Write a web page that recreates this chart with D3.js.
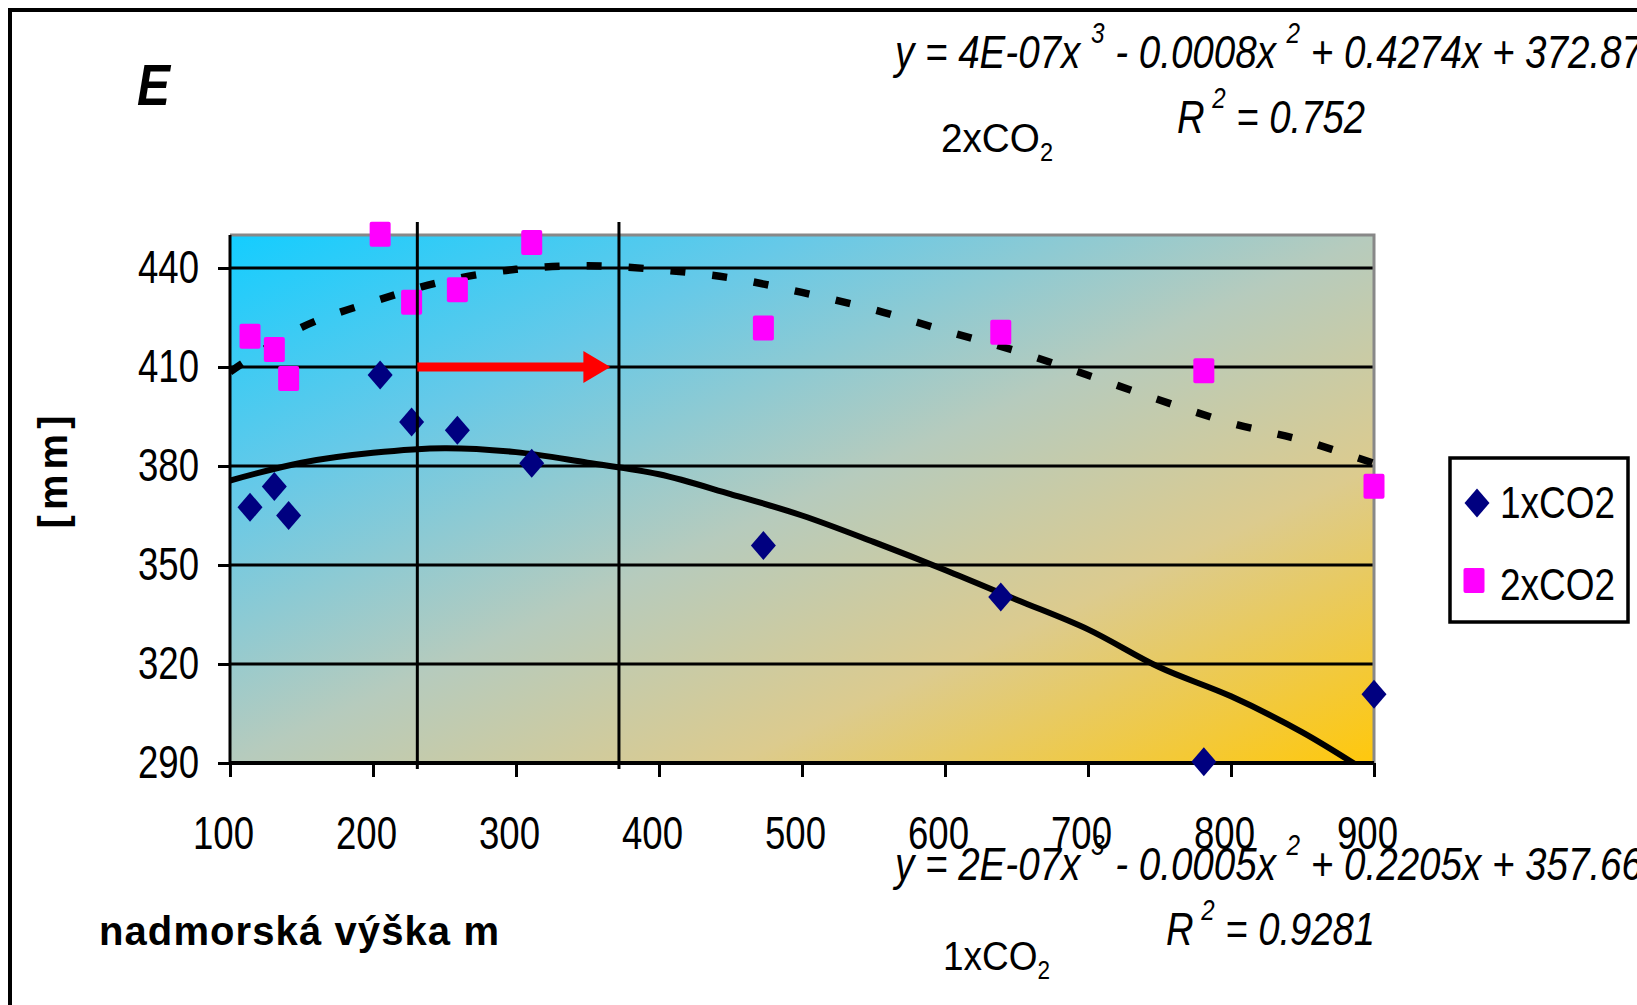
<!DOCTYPE html>
<html>
<head>
<meta charset="utf-8">
<script src="https://cdn.jsdelivr.net/npm/d3@7"></script>
<style>
  body { margin: 0; background: #fff; }
  svg { display: block; }
  text { font-family: "Liberation Sans", Arial, sans-serif; fill: #000; }
</style>
</head>
<body>
<svg id="chart" width="1637" height="1005"></svg>
<script>
// station elevation (m) - same stations for both runs
let elevation = [114, 131, 141, 205, 227, 259, 311, 473, 639, 781, 900];
let seriesNames = ["1xCO2", "2xCO2"];
let precip1x = [367.5, 373.8, 365.0, 407.6, 393.3, 390.8, 380.8, 355.9, 340.3, 290.4, 310.8];
let precip2x = [419.3, 415.3, 406.5, 450.2, 429.6, 433.4, 447.7, 421.8, 420.5, 408.9, 373.9];

// polynomial trend lines as they appear in the figure, read every 50 m
let trendX = [100, 150, 200, 250, 300, 350, 400, 450, 500, 550, 600, 650, 700, 750, 800, 850, 900];
let trend1x = [375.6, 381, 384, 385.4, 384.2, 381, 377.5, 371.5, 365, 357, 348.5, 339.5, 330.5, 319, 310.2, 299.3, 286];
let trend2x = [408.5, 422, 429.8, 436, 439.6, 440.7, 439.5, 437, 432.6, 427.4, 421, 414.8, 407.5, 400, 393, 387.8, 380.8];

let xTicks = [100, 200, 300, 400, 500, 600, 700, 800, 900];
let yTicks = [290, 320, 350, 380, 410, 440];

// elevation band markers and the red shift arrow
let bandLines = [231, 372];
let arrowX = [231, 366];
let arrowLevel = 410;

let svg = d3.select("#chart");

let pLeft = 230, pRight = 1374, pTop = 235, pBottom = 763;

let x = d3.scaleLinear().domain([100, 900]).range([pLeft, pRight]);
let y = d3.scaleLinear().domain([290, 450]).range([pBottom, pTop]);

// outer frame (cut off at the right and bottom like the original)
svg.append("rect")
  .attr("x", 10).attr("y", 10)
  .attr("width", 1700).attr("height", 1100)
  .attr("fill", "none").attr("stroke", "#000").attr("stroke-width", 4);

// plot background
let defs = svg.append("defs");
let grad = defs.append("linearGradient").attr("id", "bg")
  .attr("x1", 0).attr("y1", 0).attr("x2", 1).attr("y2", 1);
grad.append("stop").attr("offset", "0%").attr("stop-color", "#14cdff");
grad.append("stop").attr("offset", "25%").attr("stop-color", "#66c9e8");
grad.append("stop").attr("offset", "50%").attr("stop-color", "#b6cbbd");
grad.append("stop").attr("offset", "72%").attr("stop-color", "#dccb8e");
grad.append("stop").attr("offset", "100%").attr("stop-color", "#ffc80c");

defs.append("clipPath").attr("id", "plotclip")
  .append("rect").attr("x", pLeft).attr("y", pTop)
  .attr("width", pRight - pLeft).attr("height", pBottom - pTop);

svg.append("rect")
  .attr("x", pLeft).attr("y", pTop)
  .attr("width", pRight - pLeft).attr("height", pBottom - pTop)
  .attr("fill", "url(#bg)");

// horizontal gridlines
svg.append("g").selectAll("line")
  .data(yTicks.filter(d => d > 290))
  .join("line")
  .attr("x1", pLeft).attr("x2", pRight)
  .attr("y1", d => y(d)).attr("y2", d => y(d))
  .attr("stroke", "#000").attr("stroke-width", 3);

// plot border top / right
svg.append("path")
  .attr("d", `M${pLeft},${pTop}H${pRight}V${pBottom}`)
  .attr("fill", "none").attr("stroke", "#888").attr("stroke-width", 3);

// axes
let yAxis = svg.append("g")
  .attr("transform", `translate(${pLeft},0)`)
  .call(d3.axisLeft(y).tickValues(yTicks).tickSize(12).tickPadding(19));
yAxis.attr("font-family", null);
yAxis.select(".domain").attr("stroke-width", 3).attr("d", `M0,${pTop}V${pBottom}`);
yAxis.selectAll(".tick line").attr("stroke-width", 3);
yAxis.selectAll(".tick text").attr("font-size", 46)
  .attr("textLength", 61).attr("lengthAdjust", "spacingAndGlyphs");

let xAxis = svg.append("g")
  .attr("transform", `translate(0,${pBottom})`)
  .call(d3.axisBottom(x).tickValues(xTicks).tickSize(14).tickPadding(39));
xAxis.attr("font-family", null);
xAxis.select(".domain").attr("stroke-width", 4).attr("d", `M${pLeft},0H${pRight}`);
xAxis.selectAll(".tick line").attr("stroke-width", 3);
xAxis.selectAll(".tick text").attr("font-size", 46).attr("dx", -7)
  .attr("textLength", 61).attr("lengthAdjust", "spacingAndGlyphs");

// trend lines
let line1 = d3.line().x((d, i) => x(trendX[i])).y(d => y(d)).curve(d3.curveCatmullRom);
svg.append("path")
  .attr("clip-path", "url(#plotclip)")
  .attr("d", line1(trend1x))
  .attr("fill", "none").attr("stroke", "#000").attr("stroke-width", 6);
svg.append("path")
  .attr("clip-path", "url(#plotclip)")
  .attr("d", line1(trend2x))
  .attr("fill", "none").attr("stroke", "#000").attr("stroke-width", 7.5)
  .attr("stroke-dasharray", "15 27");

// markers
let diamond = (cx, cy, w, h) => `M${cx},${cy - h / 2}L${cx + w / 2},${cy}L${cx},${cy + h / 2}L${cx - w / 2},${cy}Z`;

svg.append("g").selectAll("path")
  .data(precip1x)
  .join("path")
  .attr("d", (d, i) => diamond(x(elevation[i]), y(d), 25, 29))
  .attr("fill", "#000080");

svg.append("g").selectAll("rect")
  .data(precip2x)
  .join("rect")
  .attr("x", (d, i) => x(elevation[i]) - 10.5)
  .attr("y", d => y(d) - 12.5)
  .attr("width", 21).attr("height", 25).attr("rx", 2)
  .attr("fill", "#ff00ff");

// band lines
svg.append("g").selectAll("line")
  .data(bandLines)
  .join("line")
  .attr("x1", d => x(d)).attr("x2", d => x(d))
  .attr("y1", pTop - 13).attr("y2", pBottom + 6)
  .attr("stroke", "#000").attr("stroke-width", 3);

// red arrow
let ax0 = x(arrowX[0]), ax1 = x(arrowX[1]), ay = y(arrowLevel);
let head = 27, shaft = 4.5, wing = 16;
svg.append("path")
  .attr("d", `M${ax0},${ay - shaft}H${ax1 - head}V${ay - wing}L${ax1},${ay}L${ax1 - head},${ay + wing}V${ay + shaft}H${ax0}Z`)
  .attr("fill", "#ff0000");

// axis titles and panel letter
svg.append("text")
  .attr("x", 137).attr("y", 105)
  .attr("font-size", 58).attr("font-weight", "bold").attr("font-style", "italic")
  .attr("textLength", 33).attr("lengthAdjust", "spacingAndGlyphs")
  .text("E");

svg.append("text")
  .attr("transform", "translate(67,472) rotate(-90)")
  .attr("text-anchor", "middle")
  .attr("font-size", 40).attr("font-weight", "bold")
  .attr("textLength", 113).attr("lengthAdjust", "spacing")
  .text("[mm]");

svg.append("text")
  .attr("x", 99).attr("y", 945)
  .attr("font-size", 40).attr("font-weight", "bold")
  .attr("textLength", 400).attr("lengthAdjust", "spacing")
  .text("nadmorská výška  m");

// trend equations: parts are [text, shift] with shift 1 = superscript, -1 = subscript
function richText(x0, y0, parts, size, len, italic) {
  let t = svg.append("text")
    .attr("x", x0).attr("y", y0)
    .attr("font-size", size)
    .attr("font-style", italic ? "italic" : "normal")
    .attr("textLength", len).attr("lengthAdjust", "spacingAndGlyphs");
  let shiftNow = 0;
  parts.forEach(p => {
    let s = p[1] > 0 ? Math.round(size * 0.55) : p[1] < 0 ? -Math.round(size * 0.22) : 0;
    t.append("tspan")
      .attr("dy", -s + shiftNow)
      .attr("font-size", p[1] ? Math.round(size * 0.62) : size)
      .text(p[0]);
    shiftNow = s;
  });
  return t;
}

richText(895, 68, [["y = 4E-07x ", 0], ["3", 1], ["  - 0.0008x ", 0], ["2", 1], ["  + 0.4274x + 372.87", 0]], 46, 748, true);
richText(1177, 133, [["R\u2009", 0], ["2", 1], [" = 0.752", 0]], 46, 188, true);
richText(941, 152, [["2xCO", 0], ["2", -1]], 41, 112, false);

richText(895, 880, [["y = 2E-07x ", 0], ["3", 1], ["  - 0.0005x ", 0], ["2", 1], ["  + 0.2205x + 357.66", 0]], 46, 748, true);
richText(1166, 945, [["R\u2009", 0], ["2", 1], [" = 0.9281", 0]], 46, 209, true);
richText(943, 970, [["1xCO", 0], ["2", -1]], 41, 107, false);

// legend
let legend = svg.append("g");
legend.append("rect")
  .attr("x", 1450).attr("y", 458).attr("width", 178).attr("height", 164)
  .attr("fill", "#fff").attr("stroke", "#000").attr("stroke-width", 3.5);
legend.append("path").attr("d", diamond(1477, 503, 25, 29)).attr("fill", "#000080");
legend.append("rect").attr("x", 1463.5).attr("y", 568).attr("width", 21).attr("height", 25)
  .attr("rx", 2).attr("fill", "#ff00ff");
legend.selectAll("text.lab")
  .data(seriesNames)
  .join("text").attr("class", "lab")
  .attr("x", 1500).attr("y", (d, i) => 518 + i * 82)
  .attr("font-size", 44)
  .attr("textLength", 115).attr("lengthAdjust", "spacingAndGlyphs")
  .text(d => d);
</script>
</body>
</html>
